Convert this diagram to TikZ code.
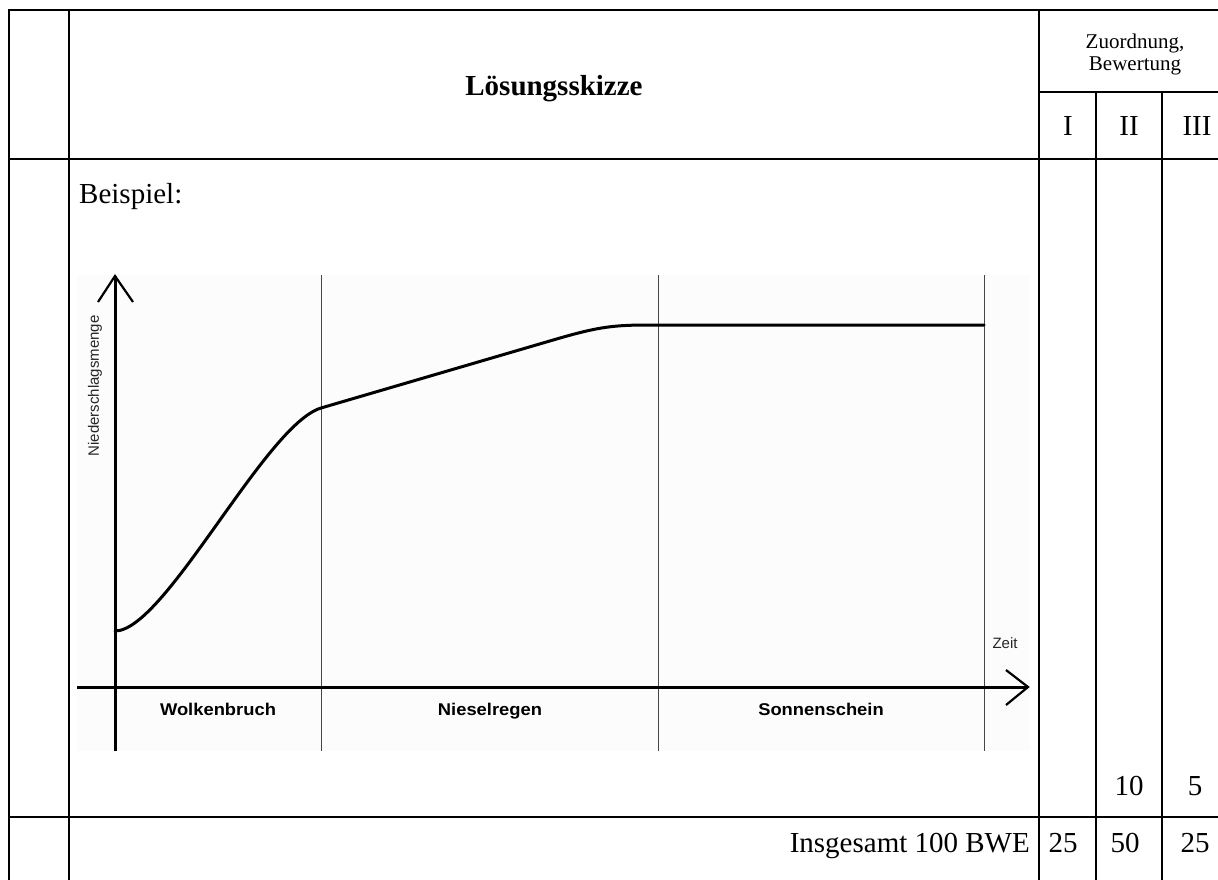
\documentclass[tikz,border=0pt]{standalone}
\usepackage{fontspec}
\setmainfont{Liberation Serif}
\newfontfamily\arialfont{Liberation Sans}
\definecolor{chartbg}{RGB}{252,252,252}
\definecolor{sepgray}{RGB}{70,70,70}
\begin{document}
\begin{tikzpicture}[x=1pt,y=-1pt,
  grid/.style={line width=2.6pt, line join=miter},
  main/.style={font=\fontsize{29}{34}\selectfont, inner sep=0pt},
  small/.style={font=\fontsize{21}{23}\selectfont, inner sep=0pt},
  lab/.style={font=\arialfont\bfseries\fontsize{17}{20}\selectfont, inner sep=0pt, xscale=1.08},
  axlab/.style={font=\arialfont\fontsize{15}{18}\selectfont, inner sep=0pt, text=black!85},
  axis/.style={line width=3pt},
  tip/.style={line width=2.2pt, line join=miter},
  sepline/.style={line width=1pt, draw=sepgray},
  curve/.style={line width=3pt, line join=round, line cap=round}]
\useasboundingbox (0,0) rectangle (1218,879);

% table
\draw[grid] (1240,10) -- (9,10) -- (9,890);
\draw[grid] (69,10) -- (69,890);
\draw[grid] (1039,10) -- (1039,890);
\draw[grid] (1096,92) -- (1096,890);
\draw[grid] (1162,92) -- (1162,890);
\draw[grid] (1039,92) -- (1240,92);
\draw[grid] (9,159) -- (1240,159);
\draw[grid] (9,817) -- (1240,817);

% header texts
\node[main, font=\fontsize{29}{34}\selectfont\bfseries, anchor=base] (title) at (554,95) {Lösungsskizze};
\node[small, anchor=base] (zu1) at (1135,48) {Zuordnung,};
\node[small, anchor=base] (zu2) at (1135,70) {Bewertung};
\node[main, anchor=base] (c1) at (1068,135) {I};
\node[main, anchor=base] (c2) at (1129,135) {II};
\node[main, anchor=base] (c3) at (1197,135) {III};

% body texts
\node[main, anchor=base west] (bsp) at (79,203) {Beispiel:};
\node[main, anchor=base] (p2) at (1129,795) {10};
\node[main, anchor=base] (p3) at (1195,795) {5};
\node[main, anchor=base east] (ins) at (1030,852) {Insgesamt 100 BWE};
\node[main, anchor=base] (s1) at (1063,852) {25};
\node[main, anchor=base] (s2) at (1125,852) {50};
\node[main, anchor=base] (s3) at (1195,852) {25};

% chart
\fill[chartbg] (77,275) rectangle (1030,751);
\draw[sepline] (321,275) -- (321,751);
\draw[sepline] (658,275) -- (658,751);
\draw[sepline] (984,275) -- (984,751);

\coordinate (ybot) at (115,751);
\coordinate (ytop) at (115,276);
\coordinate (xleft) at (77,687);
\coordinate (xright) at (1028,687);
\draw[axis] (ybot) -- (ytop);
\draw[tip] (98,302) -- (ytop) -- (133,302);
\draw[axis] (xleft) -- (xright);
\draw[tip] (1006,670) -- (xright) -- (1006,705);

\draw[curve] (115,631) .. controls (165,631) and (265,425) .. (321,408)
  -- (560,338) .. controls (600,326.5) and (615,325) .. (650,325) -- (984,325);

\node[axlab, rotate=90] (ylab) at (95,386) {Niederschlagsmenge};
\node[axlab] (xlab) at (1005,643) {Zeit};
\node[lab, anchor=base] (w) at (218,715) {Wolkenbruch};
\node[lab, anchor=base] (n) at (490,715) {Nieselregen};
\node[lab, anchor=base] (s) at (821,715) {Sonnenschein};
\end{tikzpicture}
\end{document}
